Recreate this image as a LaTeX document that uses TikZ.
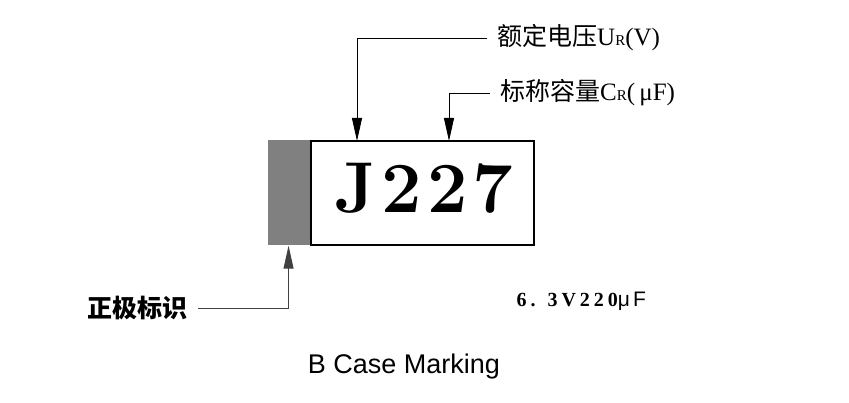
\documentclass[tikz,border=0pt]{standalone}
\usepackage{fontspec}
\setsansfont{Liberation Sans}
\newfontfamily\cjk{Noto Sans CJK SC}
\newfontfamily\lat{Liberation Serif}
\newfontfamily\numfont[LetterSpace=20]{Liberation Serif}
\usetikzlibrary{arrows.meta, positioning}
\tikzstyle{body} = [rectangle, minimum width=223pt, minimum height=104pt, line width=2.5pt, draw=black, fill=white]
\tikzstyle{band} = [rectangle, minimum width=42pt, minimum height=105pt, inner sep=0pt, fill=black!50]
\tikzstyle{callout} = [inner xsep=10pt, inner ysep=0pt, font=\fontsize{25}{25}\selectfont]
\tikzstyle{arrow} = [line width=0.9pt, -{Triangle[length=23pt, width=10pt]}]

\begin{document}
\begin{tikzpicture}[x=1pt, y=-1pt]
	\useasboundingbox (0,0) rectangle (849,403);
	\node (case) [body] at (422.5,193) {};
	\node (band) [band, left=0pt of case.west] {};
	\node (code) [anchor=base, font=\fontsize{72}{72}\selectfont\bfseries] at (424,213) {J\kern5pt 2\kern5pt 2\kern5pt 7};
	
	\node (urlab) [callout, anchor=west] at (487,38) {{\cjk 额定电压}{\lat U{\fontsize{15}{15}\selectfont R}(V)}};
	\node (crlab) [callout, anchor=west] at (490,93) {{\cjk 标称容量}{\lat C{\fontsize{15}{15}\selectfont R}(\,μF)}};
	\node (pollab) [callout, anchor=east] at (198,308) {\cjk\bfseries 正极标识};
	\coordinate (urtip) at (357,141);
	\coordinate (crtip) at (449,141);
	
	\draw [arrow] (urlab.west) -| (urtip);
	\draw [arrow] (crlab.west) -| (crtip);
	\draw [arrow, black!75] (pollab.east) -| (band.south);
	
	\node (value) [anchor=base west, font=\fontsize{20}{20}\selectfont\bfseries] at (513,307) {{\numfont 6. 3V220}{\sffamily\mdseries\fontsize{21}{21}\selectfont μ\kern3pt F}};
	\node (caption) [font=\sffamily\fontsize{27}{27}\selectfont] at (404,367) {B Case Marking};
	\end{tikzpicture}
\end{document}
